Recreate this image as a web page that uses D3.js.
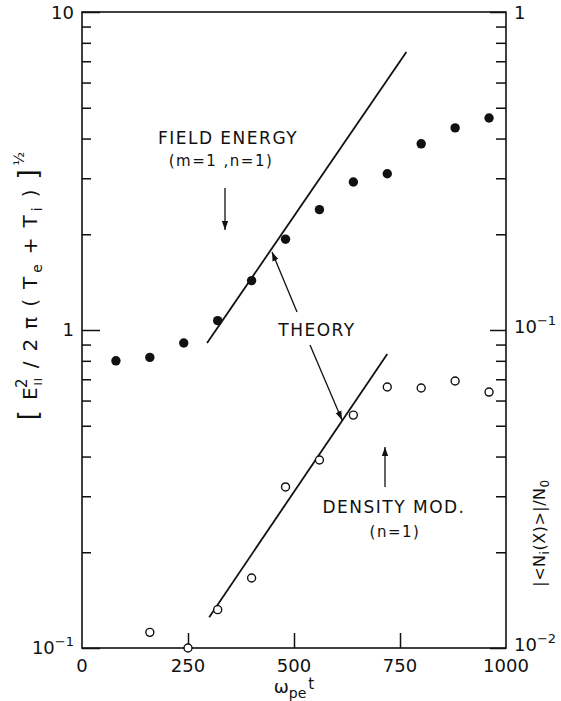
<!DOCTYPE html>
<html>
<head>
<meta charset="utf-8">
<script src="https://cdn.jsdelivr.net/npm/d3@7"></script>
<style>
  body { margin: 0; background: #fff; }
  svg text { font-family: "DejaVu Sans", sans-serif; fill: #111; }
</style>
</head>
<body>
<div id="canvas"></div>
<script>
// field energy (filled dots, left axis)
let fieldT = [80, 160, 240, 320, 400, 480, 560, 640, 720, 800, 880, 960];
let fieldVal = [0.80, 0.82, 0.91, 1.07, 1.43, 1.93, 2.39, 2.92, 3.10, 3.85, 4.32, 4.64];
// density modulation (open dots, right axis)
let densT = [160, 250, 320, 400, 480, 560, 640, 720, 800, 880, 960];
let densVal = [0.0112, 0.0100, 0.0132, 0.0166, 0.0321, 0.0390, 0.0540, 0.0662, 0.0657, 0.0691, 0.0638];
// theory lines (end points)
let fieldTheoryT = [295, 765];
let fieldTheoryVal = [0.91, 7.48];
let densTheoryT = [300, 720];
let densTheoryVal = [0.0125, 0.0841];
let xTicks = [0, 250, 500, 750, 1000];
let leftMajor = [0.1, 1, 10];
let rightMajor = [0.01, 0.1, 1];

let W = 561, H = 701;
let margin = { top: 12, right: 55, bottom: 53, left: 82 };

let svg = d3.select("#canvas").append("svg")
    .attr("width", W)
    .attr("height", H);

let x = d3.scaleLinear().domain([0, 1000]).range([margin.left, W - margin.right]);
let yL = d3.scaleLog().domain([0.1, 10]).range([H - margin.bottom, margin.top]);
let yR = d3.scaleLog().domain([0.01, 1]).range([H - margin.bottom, margin.top]);

let minorOf = (lo, hi) => {
    let out = [];
    for (let d = lo; d < hi; d *= 10)
        for (let k = 2; k <= 9; k++) out.push(d * k);
    return out;
};

svg.append("defs").append("marker")
    .attr("id", "head")
    .attr("viewBox", "0 0 10 10")
    .attr("refX", 10).attr("refY", 5)
    .attr("markerWidth", 9).attr("markerHeight", 9)
    .attr("markerUnits", "userSpaceOnUse")
    .attr("orient", "auto")
    .append("path")
    .attr("d", "M0,1.5 L10,5 L0,8.5 Z")
    .attr("fill", "#111");

// frame
svg.append("rect")
    .attr("x", margin.left).attr("y", margin.top)
    .attr("width", x(1000) - x(0))
    .attr("height", yL(0.1) - yL(10))
    .attr("fill", "none").attr("stroke", "#111").attr("stroke-width", 1.6);

let clean = g => {
    g.select(".domain").remove();
    g.selectAll(".tick line").attr("stroke", "#111").attr("stroke-width", 1.5);
};

// left axis ticks (inward)
svg.append("g").attr("transform", `translate(${margin.left},0)`)
    .call(d3.axisRight(yL).tickValues(minorOf(0.1, 10)).tickSize(9).tickFormat(""))
    .call(clean);
svg.append("g").attr("transform", `translate(${margin.left},0)`)
    .call(d3.axisRight(yL).tickValues(leftMajor).tickSize(18).tickFormat(""))
    .call(clean);
// right axis ticks (inward)
svg.append("g").attr("transform", `translate(${x(1000)},0)`)
    .call(d3.axisLeft(yR).tickValues(minorOf(0.01, 1)).tickSize(10).tickFormat(""))
    .call(clean);
svg.append("g").attr("transform", `translate(${x(1000)},0)`)
    .call(d3.axisLeft(yR).tickValues(rightMajor).tickSize(16).tickFormat(""))
    .call(clean);
// bottom ticks (inward)
svg.append("g").attr("transform", `translate(0,${H - margin.bottom})`)
    .call(d3.axisTop(x).tickValues(xTicks.slice(1, -1)).tickSize(15).tickFormat(""))
    .call(clean);

// tick labels
svg.selectAll("text.xl").data(xTicks).join("text")
    .attr("class", "xl")
    .attr("x", d => x(d))
    .attr("y", H - margin.bottom + 24)
    .attr("text-anchor", "middle")
    .attr("font-size", 18)
    .text(d => d);

let powLabel = (sel, v) => {
    let e = Math.round(Math.log10(v));
    if (e === 0) sel.text("1");
    else if (e === 1) sel.text("10");
    else {
        sel.append("tspan").text("10");
        sel.append("tspan").attr("dy", -8).attr("font-size", 13).text("\u2212" + (-e));
    }
};

svg.selectAll("text.yl").data(leftMajor).join("text")
    .attr("class", "yl")
    .attr("x", margin.left - 8)
    .attr("y", d => Math.max(yL(d) + 6, 19))
    .attr("text-anchor", "end")
    .attr("font-size", 18)
    .each(function (d) { powLabel(d3.select(this), d); });

svg.selectAll("text.yr").data(rightMajor).join("text")
    .attr("class", "yr")
    .attr("x", x(1000) + 8)
    .attr("y", d => Math.max(yR(d) + 3, 19))
    .attr("text-anchor", "start")
    .attr("font-size", 18)
    .each(function (d) { powLabel(d3.select(this), d); });

// x title  omega_pe t
let xt = svg.append("text")
    .attr("x", x(500))
    .attr("y", H - 8)
    .attr("text-anchor", "middle")
    .attr("font-size", 18);
xt.append("tspan").text("\u03C9");
xt.append("tspan").attr("dy", 5).attr("font-size", 14).text("pe");
xt.append("tspan").attr("dy", -9).attr("dx", 2).attr("font-size", 15).text("t");

// left title
let lt = svg.append("text")
    .attr("transform", "translate(37,286) rotate(-90)")
    .attr("text-anchor", "middle")
    .attr("font-size", 20)
    .attr("letter-spacing", 10);
lt.append("tspan").attr("font-size", 26).text("[");
lt.append("tspan").text("E");
lt.append("tspan").attr("dy", 5).attr("dx", -8).attr("font-size", 11).attr("letter-spacing", 1).text("II");
lt.append("tspan").attr("dy", -15).attr("dx", -11).attr("font-size", 15).text("2");
lt.append("tspan").attr("dy", 10).text("/2\u03C0(T");
lt.append("tspan").attr("dy", 5).attr("dx", -6).attr("font-size", 14).text("e");
lt.append("tspan").attr("dy", -5).text("+T");
lt.append("tspan").attr("dy", 5).attr("dx", -6).attr("font-size", 14).text("i");
lt.append("tspan").attr("dy", -5).text(")");
lt.append("tspan").attr("font-size", 26).text("]");
lt.append("tspan").attr("dy", -13).attr("dx", -6).attr("font-size", 14).attr("letter-spacing", 0).text("\u00BD");

// right title
let rt = svg.append("text")
    .attr("transform", "translate(545,533) rotate(-90)")
    .attr("text-anchor", "middle")
    .attr("font-size", 16)
    .attr("letter-spacing", 0.5);
rt.append("tspan").text("|<N");
rt.append("tspan").attr("dy", 4).attr("font-size", 12).text("i");
rt.append("tspan").attr("dy", -4).text("(X)>|/N");
rt.append("tspan").attr("dy", 4).attr("font-size", 12).text("0");

// theory lines
let line = (ys) => d3.line().x(d => x(d[0])).y(d => ys(d[1]));
svg.append("path")
    .datum(d3.zip(fieldTheoryT, fieldTheoryVal))
    .attr("d", line(yL))
    .attr("fill", "none").attr("stroke", "#111").attr("stroke-width", 1.8);
svg.append("path")
    .datum(d3.zip(densTheoryT, densTheoryVal))
    .attr("d", line(yR))
    .attr("fill", "none").attr("stroke", "#111").attr("stroke-width", 1.8);

// data points
svg.selectAll("circle.f").data(d3.zip(fieldT, fieldVal)).join("circle")
    .attr("class", "f")
    .attr("cx", d => x(d[0])).attr("cy", d => yL(d[1]))
    .attr("r", 4.7).attr("fill", "#111");
svg.selectAll("circle.o").data(d3.zip(densT, densVal)).join("circle")
    .attr("class", "o")
    .attr("cx", d => x(d[0])).attr("cy", d => yR(d[1]))
    .attr("r", 4).attr("fill", "#fff").attr("stroke", "#111").attr("stroke-width", 1.4);

// annotations
let note = (tx, ty, s, fs) => svg.append("text")
    .attr("x", tx).attr("y", ty)
    .attr("text-anchor", "middle")
    .attr("font-size", fs)
    .attr("letter-spacing", 1.5)
    .text(s);
note(228, 144, "FIELD ENERGY", 17);
note(221, 166, "(m=1 ,n=1)", 15);
note(317, 336, "THEORY", 17);
note(394, 513, "DENSITY MOD.", 17);
note(395, 537, "(n=1)", 15);

let arrow = (x1, y1, x2, y2) => svg.append("line")
    .attr("x1", x1).attr("y1", y1).attr("x2", x2).attr("y2", y2)
    .attr("stroke", "#111").attr("stroke-width", 1.3)
    .attr("marker-end", "url(#head)");
arrow(225, 188, 225, 230);
arrow(297, 312, 272, 252);
arrow(310, 345, 342, 420);
arrow(385, 487, 385, 447);
</script>
</body>
</html>
